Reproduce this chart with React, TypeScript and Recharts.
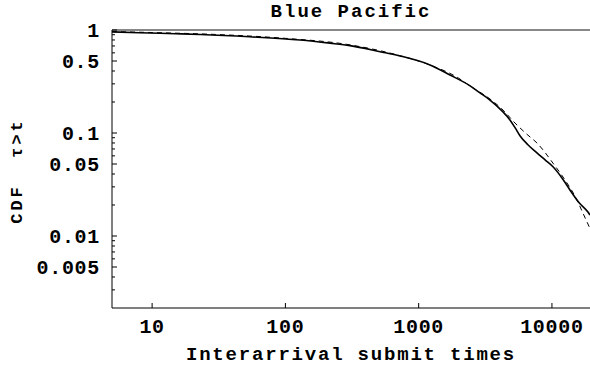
import { LineChart, Line, XAxis, YAxis, ReferenceLine } from 'recharts';

// empirical CDF (solid)
const empX = [5, 8, 15, 23, 54, 129, 216, 305, 513, 724, 1216, 1718, 2400, 2884, 3428, 4200, 4842, 5300, 5754, 6600, 7720, 9000, 10180, 12000, 13650, 16000, 18620, 19300];
const empY = [0.96, 0.94, 0.92, 0.905, 0.86, 0.8, 0.745, 0.705, 0.616, 0.56, 0.458, 0.366, 0.29, 0.245, 0.209, 0.165, 0.134, 0.112, 0.094, 0.077, 0.064, 0.054, 0.047, 0.036, 0.028, 0.021, 0.0171, 0.016];

// fitted model (dashed)
const fitX = [5, 10, 30, 100, 300, 700, 1200, 2000, 2427, 3428, 4295, 5280, 6500, 7720, 10180, 12970, 15000, 17080, 19300];
const fitY = [0.965, 0.945, 0.905, 0.83, 0.72, 0.57, 0.46, 0.34, 0.286, 0.214, 0.167, 0.125, 0.097, 0.08, 0.051, 0.0327, 0.024, 0.0167, 0.0118];

const xTicks = [10, 100, 1000, 10000];
const yTicks = [0.002, 0.003, 0.004, 0.005, 0.006, 0.007, 0.008, 0.009, 0.01, 0.02, 0.03, 0.04, 0.05, 0.06, 0.07, 0.08, 0.09, 0.1, 0.2, 0.3, 0.4, 0.5, 0.6, 0.7, 0.8, 0.9, 1];
const yMajor = [1, 0.5, 0.1, 0.05, 0.01, 0.005];

const empData = empX.map((x, i) => ({ x, y: empY[i] }));
const fitData = fitX.map((x, i) => ({ x, y: fitY[i] }));

const FONT = '"Liberation Mono", "DejaVu Sans Mono", monospace';
const Y_GAP = 12;
const X_GAP = 25;

const YTick = (props: any) => {
  const { x, y, payload } = props;
  const v = payload.value;
  const major = yMajor.includes(v);
  const ax = x + Y_GAP;
  if (v === 0.002) return null;
  return (
    <g>
      <line x1={ax} x2={ax + (major ? 5 : 3)} y1={y} y2={y} stroke="#000" />
      {major && (
        <text x={x} y={y} dy={6.5} textAnchor="end" fontFamily={FONT} fontWeight="bold" fontSize={20} letterSpacing={0.7} fill="#000">
          {String(v)}
        </text>
      )}
    </g>
  );
};

const XTick = (props: any) => {
  const { x, y, payload } = props;
  const ay = y - X_GAP;
  return (
    <g>
      <line x1={x} x2={x} y1={ay} y2={ay - 5} stroke="#000" />
      <text x={x} y={y} textAnchor="middle" fontFamily={FONT} fontWeight="bold" fontSize={20} letterSpacing={0.7} fill="#000">
        {payload.value}
      </text>
    </g>
  );
};

export default function App() {
  return (
    <div style={{ position: 'absolute', left: 0, top: 0, background: '#fff' }}>
      <LineChart width={590} height={366} margin={{ top: 30, right: 0, bottom: 0, left: 0 }}>
        <text x={351} y={17} textAnchor="middle" fontFamily={FONT} fontWeight="bold" fontSize={19} letterSpacing={2} fill="#000">
          Blue Pacific
        </text>
        <text
          x={22}
          y={171}
          transform="rotate(-90 22 171)"
          textAnchor="middle"
          fontFamily={FONT}
          fontWeight="bold"
          fontSize={17}
          letterSpacing={3}
          fill="#000"
          style={{ whiteSpace: 'pre' }}
        >
          {'CDF  τ>t'}
        </text>
        <XAxis
          dataKey="x"
          type="number"
          scale="log"
          domain={[5, 19300]}
          allowDataOverflow
          ticks={xTicks}
          interval={0}
          height={58}
          tickSize={0}
          tickMargin={X_GAP}
          tickLine={false}
          tick={<XTick />}
          axisLine={{ stroke: '#000', strokeWidth: 1 }}
          label={{
            value: 'Interarrival  submit times',
            position: 'insideBottom',
            offset: 6,
            style: { fontFamily: FONT, fontWeight: 'bold', fontSize: 19, letterSpacing: 1.8, fill: '#000', whiteSpace: 'pre' },
          }}
        />
        <YAxis
          dataKey="y"
          type="number"
          scale="log"
          domain={[0.002, 1]}
          allowDataOverflow
          ticks={yTicks}
          interval={0}
          width={112}
          tickSize={0}
          tickMargin={Y_GAP}
          tickLine={false}
          tick={<YTick />}
          axisLine={{ stroke: '#000', strokeWidth: 1 }}
        />
        <ReferenceLine y={1} stroke="#888" strokeWidth={2} />
        <Line data={fitData} dataKey="y" type="monotone" stroke="#000" strokeWidth={1} strokeDasharray="5 4" dot={false} isAnimationActive={false} />
        <Line data={empData} dataKey="y" type="monotone" stroke="#000" strokeWidth={1.6} dot={false} isAnimationActive={false} />
      </LineChart>
    </div>
  );
}
